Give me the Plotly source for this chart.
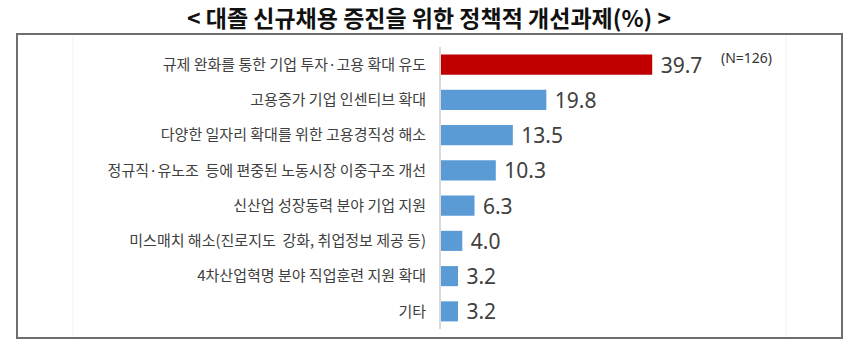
import plotly.graph_objects as go

# ---- data ----
categories = [
    "규제 완화를 통한 기업 투자·고용 확대 유도",
    "고용증가 기업 인센티브 확대",
    "다양한 일자리 확대를 위한 고용경직성 해소",
    "정규직·유노조  등에 편중된 노동시장 이중구조 개선",
    "신산업 성장동력 분야 기업 지원",
    "미스매치 해소(진로지도  강화, 취업정보 제공 등)",
    "4차산업혁명 분야 직업훈련 지원 확대",
    "기타",
]
values = [39.7, 19.8, 13.5, 10.3, 6.3, 4.0, 3.2, 3.2]
bar_colors = ["#c00000"] + ["#5b9bd5"] * 7
title_text = "< 대졸 신규채용 증진을 위한 정책적 개선과제(%) >"
note_text = "(N=126)"

# ---- layout constants (pixels) ----
W, H = 858, 352
PL, PR, PT, PB = 441, 840, 47, 329  # plot area
xmax = (PR - PL) / 5.32

def px_x(px):
    return (px - PL) / (PR - PL)

def px_y(py):
    return (PB - py) / (PB - PT)

fig = go.Figure()
fig.add_trace(go.Bar(
    y=categories,
    x=values,
    orientation="h",
    marker=dict(color=bar_colors, line=dict(width=0)),
    text=values,
    texttemplate=" %{x:.1f}",
    textposition="outside",
    constraintext="none",
    textfont=dict(family="Noto Sans, sans-serif", size=21, color="#404040"),
    cliponaxis=False,
    hoverinfo="skip",
))

box_color = "#6e6e6e"
shapes = [
    dict(type="rect", xref="paper", yref="paper",
         x0=px_x(17), x1=px_x(842), y0=px_y(338), y1=px_y(34),
         line=dict(color=box_color, width=2), fillcolor="rgba(0,0,0,0)", layer="below"),
    dict(type="line", xref="paper", yref="paper",
         x0=px_x(73), x1=px_x(73), y0=px_y(337), y1=px_y(35),
         line=dict(color="#f2f2f2", width=1), layer="below"),
    dict(type="line", xref="paper", yref="paper",
         x0=px_x(786), x1=px_x(786), y0=px_y(337), y1=px_y(35),
         line=dict(color="#f2f2f2", width=1), layer="below"),
]

fig.update_layout(
    width=W, height=H,
    margin=dict(l=PL, r=W - PR, t=PT, b=H - PB, autoexpand=False),
    paper_bgcolor="white", plot_bgcolor="white",
    showlegend=False,
    bargap=0.43,
    title=dict(text=title_text, x=0.5, xref="container", xanchor="center",
               y=1 - 19 / H, yref="container", yanchor="middle",
               font=dict(family="Noto Sans CJK KR", size=23, color="#111111", weight="bold")),
    xaxis=dict(range=[0, xmax], visible=False, fixedrange=True),
    yaxis=dict(autorange="reversed", showline=True, linecolor="#d9d9d9", linewidth=2,
               showgrid=False, zeroline=False, ticks="", ticklabelstandoff=10,
               tickfont=dict(family="Noto Sans CJK KR", size=15, color="#404040"),
               automargin=False, fixedrange=True),
    shapes=shapes,
    annotations=[dict(text=note_text, xref="x", yref="y", x=values[0], y=categories[0],
                      xanchor="left", yanchor="middle", xshift=67, yshift=7, showarrow=False,
                      font=dict(family="Noto Sans, sans-serif", size=14, color="#333333"))],
)

fig.write_html("out.html")
